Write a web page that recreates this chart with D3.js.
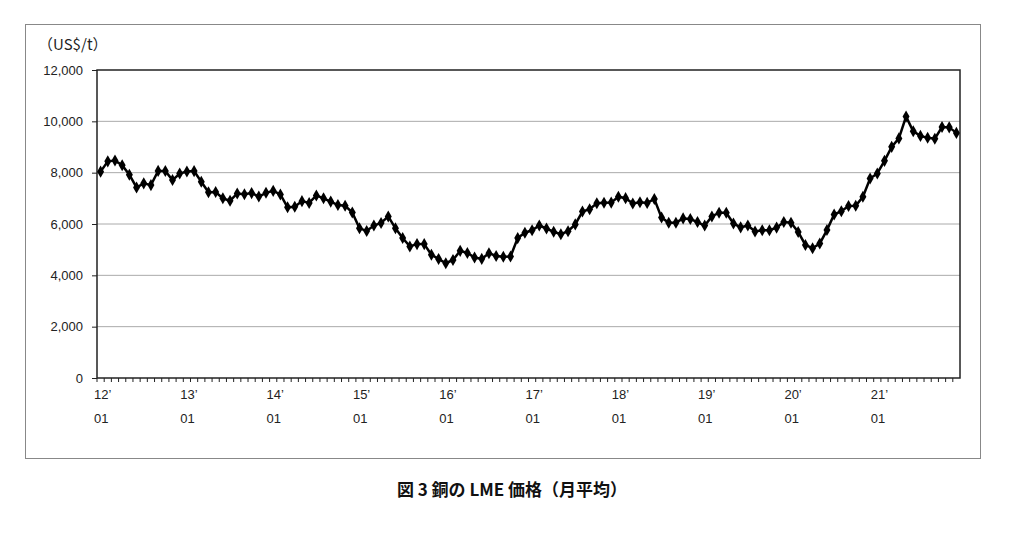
<!DOCTYPE html>
<html lang="ja">
<head>
<meta charset="utf-8" />
<script src="https://cdn.jsdelivr.net/npm/d3@7"></script>
<style>
  body { margin: 0; background: #fff; font-family: "Noto Sans CJK JP", "DejaVu Sans", sans-serif; }
</style>
</head>
<body>
<svg id="chart" width="1024" height="536"></svg>
<script>
// monthly LME copper average, US$/t, 2012-01 .. 2021-12
const years = ["12", "13", "14", "15", "16", "17", "18", "19", "20", "21"];
const prices = [
  8040, 8441, 8471, 8289, 7919, 7423, 7584, 7515, 8069, 8062, 7711, 7966,
  8047, 8061, 7645, 7234, 7247, 7000, 6907, 7189, 7159, 7203, 7071, 7215,
  7291, 7149, 6650, 6674, 6891, 6821, 7113, 7002, 6872, 6737, 6713, 6446,
  5831, 5729, 5940, 6042, 6295, 5833, 5457, 5127, 5217, 5216, 4800, 4639,
  4472, 4599, 4954, 4873, 4695, 4642, 4864, 4754, 4722, 4731, 5450, 5660,
  5755, 5941, 5825, 5697, 5600, 5720, 5985, 6484, 6577, 6808, 6827, 6834,
  7065, 7007, 6800, 6849, 6823, 6976, 6250, 6052, 6051, 6218, 6194, 6076,
  5939, 6294, 6439, 6439, 6021, 5869, 5944, 5711, 5758, 5756, 5859, 6077,
  6051, 5688, 5183, 5058, 5239, 5763, 6369, 6498, 6702, 6711, 7061, 7772,
  7970, 8460, 9005, 9336, 10184, 9612, 9433, 9357, 9323, 9776, 9765, 9550
];
const yTicks = [0, 2000, 4000, 6000, 8000, 10000, 12000];

const svg = d3.select("#chart");
const pLeft = 97, pRight = 960, pTop = 70, pBottom = 378;

// outer frame
svg.append("rect").attr("x", 25.5).attr("y", 24.5).attr("width", 955).attr("height", 434)
  .attr("fill", "none").attr("stroke", "#888");

const idx = d3.range(prices.length);
const x = d3.scaleBand().domain(idx).range([pLeft, pRight]);
const xc = i => x(i) + x.bandwidth() / 2;
const y = d3.scaleLinear().domain([0, 12000]).range([pBottom, pTop]);

// gridlines
svg.append("g").selectAll("line").data(yTicks.slice(1, -1)).join("line")
  .attr("x1", pLeft).attr("x2", pRight).attr("y1", d => y(d)).attr("y2", d => y(d))
  .attr("stroke", "#aaa").attr("stroke-width", 1);

// plot border
svg.append("rect").attr("x", pLeft).attr("y", pTop).attr("width", pRight - pLeft).attr("height", pBottom - pTop)
  .attr("fill", "none").attr("stroke", "#222").attr("stroke-width", 1.5);

// y axis
const ya = svg.append("g").attr("transform", `translate(${pLeft},0)`)
  .call(d3.axisLeft(y).tickValues(yTicks).tickSize(5).tickFormat(d3.format(",")));
ya.select(".domain").remove();
ya.selectAll("line").attr("stroke", "#222");
ya.selectAll("text").attr("x", -14).attr("font-size", 13).attr("fill", "#222")
  .attr("font-family", "Liberation Sans, sans-serif");

// x ticks at each month on bottom edge
svg.append("g").selectAll("line").data(idx).join("line")
  .attr("x1", i => x(i)).attr("x2", i => x(i)).attr("y1", pBottom).attr("y2", pBottom + 4)
  .attr("stroke", "#222");

const xl = svg.append("g").selectAll("g").data(years).join("g")
  .attr("transform", (d, k) => `translate(${x(k * 12) - 3},0)`)
  .attr("font-size", 13).attr("fill", "#222").attr("font-family", "Liberation Sans, sans-serif");
xl.append("text").attr("y", 399).text(d => d + "\u2019");
xl.append("text").attr("y", 423).text("01");

// unit label
svg.append("text").attr("x", 38).attr("y", 50).attr("font-size", 15).attr("fill", "#222")
  .text("（US$/t）");

// line + diamond markers
svg.append("path").datum(idx)
  .attr("d", d3.line().x(xc).y(i => y(prices[i])))
  .attr("fill", "none").attr("stroke", "#000").attr("stroke-width", 2.5);
svg.append("g").selectAll("path").data(idx).join("path")
  .attr("transform", i => `translate(${xc(i)},${y(prices[i])})`)
  .attr("d", d3.symbol(d3.symbolDiamond, 42))
  .attr("fill", "#000");

// caption
svg.append("text").attr("x", 512).attr("y", 496).attr("text-anchor", "middle")
  .attr("font-size", 17).attr("font-weight", "bold").attr("fill", "#111")
  .text("図 3  銅の LME 価格（月平均）");
</script>
</body>
</html>
